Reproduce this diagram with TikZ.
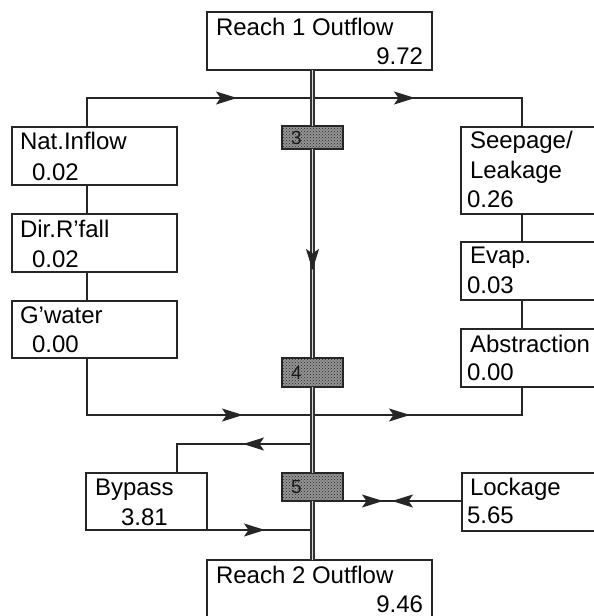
\documentclass[tikz,border=0pt]{standalone}
\usepackage{fontspec}
\setmainfont{Liberation Sans}
\usetikzlibrary{arrows.meta,decorations.markings,patterns}

\begin{document}
\begin{tikzpicture}[x=1pt,y=-1pt,
  box/.style 2 args={draw=black!85, line width=1.2pt, inner sep=0pt, outer sep=0pt,
    anchor=north west, minimum width=#1, minimum height=#2},
  gate/.style 2 args={draw=black!85, line width=1.2pt, inner sep=0pt, outer sep=0pt,
    anchor=north west, minimum width=#1, minimum height=#2,
    preaction={fill=black!42}, pattern=crosshatch dots, pattern color=black!85},
  txt/.style={font=\fontsize{24}{28}\selectfont, inner sep=0pt, outer sep=0pt, anchor=base west},
  rtxt/.style={txt, anchor=base east},
  num/.style={font=\fontsize{19}{22}\selectfont, inner sep=0pt, text=black!90},
  flow/.style={draw=black!85, line width=1.3pt},
  river/.style={draw=black!80, line width=1.2pt, double=black!15, double distance=1.7pt},
  arr/.style={postaction={decorate, decoration={markings,
    mark=at position #1 with {\arrow{Stealth[length=21pt,width=13pt,inset=4.5pt]}}}}},
  rarr/.style={postaction={decorate, decoration={markings,
    mark=at position #1 with {\arrowreversed{Stealth[length=21pt,width=13pt,inset=4.5pt]}}}}},
]
\useasboundingbox (0,0) rectangle (594,616);
\fill[white] (0,0) rectangle (594,616);

% reach boxes
\node[box={225pt}{58pt}] (r1) at (207,12) {};
\node[txt] (r1a) at (216,35) {Reach 1 Outflow};
\node[rtxt] (r1b) at (423,64) {9.72};
\node[box={225pt}{80pt}] (r2) at (207,560) {};
\node[txt] (r2a) at (216,583) {Reach 2 Outflow};
\node[rtxt] (r2b) at (423,612) {9.46};

% gates on the main channel
\node[gate={61pt}{23pt}] (g3) at (282,126) {};
\node[num] (n3) at ([xshift=-16pt]g3.center) {3};
\node[gate={61pt}{29pt}] (g4) at (282,358) {};
\node[num] (n4) at ([xshift=-16pt]g4.center) {4};
\node[gate={61pt}{28pt}] (g5) at (282,473) {};
\node[num] (n5) at ([xshift=-16pt]g5.center) {5};

% inflows (left)
\node[box={165pt}{58pt}] (nat) at (12,127) {};
\node[txt] (nata) at (20,149) {Nat.Inflow};
\node[txt] (natb) at (32,180) {0.02};
\node[box={165pt}{58pt}] (dir) at (12,214) {};
\node[txt] (dira) at (20,237) {Dir.R'fall};
\node[txt] (dirb) at (32,267) {0.02};
\node[box={165pt}{57pt}] (gw) at (12,301) {};
\node[txt] (gwa) at (20,323) {G'water};
\node[txt] (gwb) at (32,352) {0.00};

% outflows (right)
\node[box={160pt}{87pt}] (seep) at (461,127) {};
\node[txt] (seepa) at (470,148) {Seepage/};
\node[txt] (seepb) at (470,178) {Leakage};
\node[txt] (seepc) at (467,207) {0.26};
\node[box={160pt}{58pt}] (evap) at (461,242) {};
\node[txt] (evapa) at (470,263) {Evap.};
\node[txt] (evapb) at (467,293) {0.03};
\node[box={160pt}{58pt}] (abs) at (461,329) {};
\node[txt] (absa) at (470,352) {Abstraction};
\node[txt] (absb) at (467,380) {0.00};

% bypass and lockage
\node[box={121pt}{57pt}] (byp) at (86,473) {};
\node[txt] (bypa) at (95,495) {Bypass};
\node[txt] (bypb) at (121,525) {3.81};
\node[box={160pt}{58pt}] (lock) at (462,473) {};
\node[txt] (locka) at (470,495) {Lockage};
\node[txt] (lockb) at (467,523) {5.65};

% reference lines and junctions
\coordinate (lx) at (87,0);
\coordinate (rx) at (522,0);
\coordinate (bx) at (177,0);
\coordinate (jt) at (312.5,98);
\coordinate (jb) at (312.5,415);
\coordinate (jby) at (312.5,444);
\coordinate (jbb) at (312.5,530);

% side chains
\draw[flow] (nat.south -| lx) -- (dir.north -| lx);
\draw[flow] (dir.south -| lx) -- (gw.north -| lx);
\draw[flow] (seep.south -| rx) -- (evap.north -| rx);
\draw[flow] (evap.south -| rx) -- (abs.north -| rx);

% lateral flows to and from the channel
\draw[flow, arr=179pt] (nat.north -| lx) |- (jt);
\draw[flow, arr=102.5pt] (jt) -| (seep.north -| rx);
\draw[flow, arr=213pt] (gw.south -| lx) |- (jb);
\draw[flow, arr=97.5pt] (jb) -| (abs.south -| rx);
\draw[flow, arr=69.5pt] (jby) -| (byp.north -| bx);
\draw[flow, arr=58pt] (byp.south east) -- (jbb);
\draw[flow, arr=40pt, rarr=49pt] (g5.south east) -- (g5.south east -| lock.west);

% main channel
\draw[river] (r1.south -| g3.north) -- (g3.north);
\draw[river] (g3.south) -- (g4.north);
\draw[river] (g4.south) -- (g5.north);
\draw[river] (g5.south) -- (r2.north -| g5.south);
\path[color=black!85, line width=1.3pt, arr=121pt] (g3.south) -- (g4.north);
\end{tikzpicture}
\end{document}
